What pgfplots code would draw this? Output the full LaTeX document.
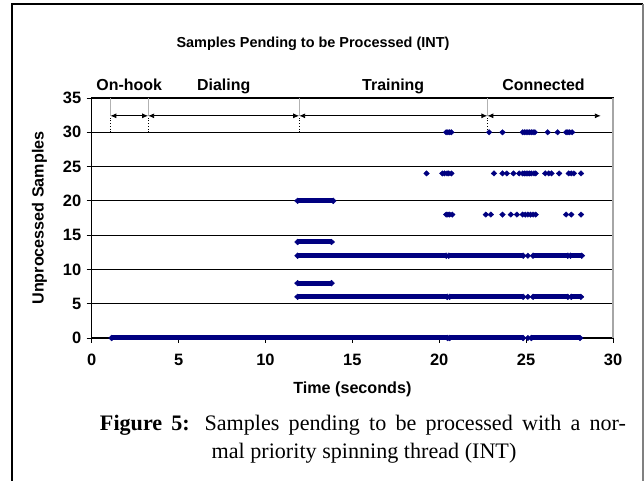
\documentclass[border=0pt]{standalone}
\usepackage{pgfplots}
\pgfplotsset{compat=1.18}
\usepackage{fontspec}
\setmainfont{Liberation Serif}
\newfontfamily\arial{Liberation Sans}
\usetikzlibrary{arrows.meta}
\definecolor{navy}{RGB}{0,0,128}
\pgfplotsset{
  pts/.style={only marks, color=navy, mark=diamond*, mark size=2.7bp, mark options={xscale=1.4, solid, fill=navy, draw=navy}},
  run/.style={color=navy, line width=5bp, mark=diamond*, mark size=2.9bp, mark options={xscale=1.4, solid, fill=navy, draw=navy, line width=0.4bp}},
}
\begin{document}
\begin{tikzpicture}[x=1bp,y=1bp]
\useasboundingbox (-91.7,-143) rectangle (552.3,338);
\begin{axis}[
  width=521.3bp, height=240bp, scale only axis,
  xmin=0, xmax=30, ymin=0, ymax=35,
  xtick={0,5,...,30}, ytick={0,5,...,35},
  xtick pos=bottom, ytick pos=left,
  tick align=outside, major tick length=5bp,
  tick style={black, line width=0.8bp},
  ymajorgrids, major grid style={black, line width=0.8bp},
  axis line style={black, line width=1bp},
  /pgf/number format/assume math mode=true,
  ticklabel style={font=\arial\bfseries\fontsize{16.5}{17}\selectfont},
  xticklabel style={yshift=-8bp},
  yticklabel style={xshift=-2bp},
  label style={font=\arial\bfseries\fontsize{16.2}{17}\selectfont},
  xlabel={Time (seconds)}, ylabel={Unprocessed Samples},
  xlabel style={at={(axis description cs:0.5,-0.213)}, anchor=center},
  ylabel style={at={(axis description cs:-0.1,0.5)}, anchor=center, rotate=0},
  clip=false,
]
% dense runs
\addplot[run] coordinates {(1.15,0) (20.48,0)};
\addplot[run] coordinates {(20.6,0) (24.83,0)};
\addplot[run] coordinates {(25.3,0) (28.1,0)};
\addplot[run] coordinates {(11.85,6) (20.46,6)};
\addplot[run] coordinates {(20.6,6) (24.83,6)};
\addplot[run] coordinates {(25.4,6) (27.4,6)};
\addplot[run] coordinates {(27.6,6) (28.15,6)};
\addplot[run] coordinates {(11.85,8) (13.8,8)};
\addplot[run] coordinates {(11.85,12) (20.4,12)};
\addplot[run] coordinates {(20.55,12) (24.83,12)};
\addplot[run] coordinates {(25.4,12) (27.4,12)};
\addplot[run] coordinates {(27.55,12) (28.2,12)};
\addplot[run] coordinates {(11.85,14) (13.8,14)};
\addplot[run] coordinates {(11.85,20) (13.9,20)};
% isolated samples
\addplot[pts] coordinates {(25.1,0) (25.1,6) (25.1,12)};
\addplot[pts] coordinates {
 (20.4,18) (20.5,18) (20.6,18) (20.75,18) (22.68,18) (22.97,18) (23.64,18) (24.12,18) (24.47,18)
 (24.8,18) (24.95,18) (25.1,18) (25.25,18) (25.4,18) (25.55,18) (27.3,18) (27.6,18) (28.16,18)};
\addplot[pts] coordinates {
 (19.27,24) (20.18,24) (20.3,24) (20.45,24) (20.55,24) (20.7,24) (23.15,24) (23.64,24) (23.89,24)
 (24.27,24) (24.6,24) (24.8,24) (24.9,24) (25.0,24) (25.1,24) (25.2,24) (25.3,24) (25.45,24) (25.55,24)
 (26.1,24) (26.3,24) (26.46,24) (26.9,24) (27.45,24) (27.6,24) (27.75,24) (28.16,24)};
\addplot[pts] coordinates {
 (20.4,30) (20.5,30) (20.6,30) (20.7,30) (22.87,30) (23.64,30) (24.8,30) (24.9,30) (25.0,30) (25.1,30)
 (25.2,30) (25.3,30) (25.4,30) (25.5,30) (26.24,30) (26.81,30) (27.3,30) (27.4,30) (27.5,30) (27.65,30)};
% right border
\draw[gray!70, line width=1.3bp] (axis cs:30,0) -- (axis cs:30,35);
% phase markers
\draw[black, dotted, line width=0.8bp] (axis cs:1.07,30) -- (axis cs:1.07,32.4);
\draw[gray!60, line width=0.6bp] (axis cs:1.07,32.4) -- (axis cs:1.07,35);
\draw[black, dotted, line width=0.8bp] (axis cs:3.25,30) -- (axis cs:3.25,32.4);
\draw[gray!60, line width=0.6bp] (axis cs:3.25,32.4) -- (axis cs:3.25,35);
\draw[black, dotted, line width=0.8bp] (axis cs:11.94,30) -- (axis cs:11.94,32.4);
\draw[gray!60, line width=0.6bp] (axis cs:11.94,32.4) -- (axis cs:11.94,35);
\draw[black, dotted, line width=0.8bp] (axis cs:22.77,30) -- (axis cs:22.77,32.4);
\draw[gray!60, line width=0.6bp] (axis cs:22.77,32.4) -- (axis cs:22.77,35);
\draw[{Latex[length=6bp,width=5bp]}-{Latex[length=6bp,width=5bp]}, line width=0.9bp] (axis cs:1.07,32.4) -- (axis cs:3.25,32.4);
\draw[{Latex[length=6bp,width=5bp]}-{Latex[length=6bp,width=5bp]}, line width=0.9bp] (axis cs:3.25,32.4) -- (axis cs:11.94,32.4);
\draw[{Latex[length=6bp,width=5bp]}-{Latex[length=6bp,width=5bp]}, line width=0.9bp] (axis cs:11.94,32.4) -- (axis cs:22.77,32.4);
\draw[{Latex[length=6bp,width=5bp]}-{Latex[length=6bp,width=5bp]}, line width=0.9bp] (axis cs:22.77,32.4) -- (axis cs:29.3,32.4);
\node[anchor=base, font=\arial\bfseries\fontsize{16}{16}\selectfont] at (axis cs:2.16,36.1) {On-hook};
\node[anchor=base, font=\arial\bfseries\fontsize{16}{16}\selectfont] at (axis cs:7.6,36.1) {Dialing};
\node[anchor=base, font=\arial\bfseries\fontsize{16}{16}\selectfont] at (axis cs:17.35,36.1) {Training};
\node[anchor=base, font=\arial\bfseries\fontsize{16}{16}\selectfont] at (axis cs:26.0,36.1) {Connected};
\end{axis}
% title
\node[font=\arial\bfseries\fontsize{14.5}{15}\selectfont] at (221.3,294) {Samples Pending to be Processed (INT)};
% frame
\draw[black, line width=2bp] (-79.7,-143) -- (-79.7,334) -- (551.3,334);
\draw[gray, line width=1.5bp] (551.3,334) -- (551.3,-143);
% caption
\node[anchor=base, font=\fontsize{22.2}{26}\selectfont, inner sep=0pt] at (271.3,-93) {\makebox[526bp][s]{\textbf{Figure 5:} Samples pending to be processed with a nor-}};
\node[anchor=base, font=\fontsize{22.2}{26}\selectfont, inner sep=0pt] at (272.3,-121) {mal priority spinning thread (INT)};
\end{tikzpicture}
\end{document}
